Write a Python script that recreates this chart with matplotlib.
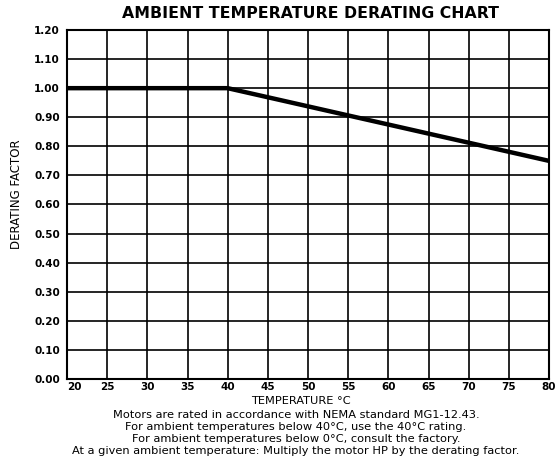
import numpy as np
import matplotlib
matplotlib.use("Agg")
import matplotlib.pyplot as plt

plt.rcParams['font.family'] = ['DejaVu Sans']

# derating curve
temps = [20, 40, 80]
factors = [1.00, 1.00, 0.75]

x_ticks = [20, 25, 30, 35, 40, 45, 50, 55, 60, 65, 70, 75, 80]
y_ticks = [0.0, 0.1, 0.2, 0.3, 0.4, 0.5, 0.6, 0.7, 0.8, 0.9, 1.0, 1.1, 1.2]

notes = [
    "Motors are rated in accordance with NEMA standard MG1-12.43.",
    "For ambient temperatures below 40°C, use the 40°C rating.",
    "For ambient temperatures below 0°C, consult the factory.",
    "At a given ambient temperature: Multiply the motor HP by the derating factor.",
]

W, H = 559, 459
fig = plt.figure(figsize=(W / 100, H / 100), dpi=100)
left, right, top, bottom = 67, 549, 30, 379
ax = fig.add_axes([left / W, 1 - bottom / H, (right - left) / W, (bottom - top) / H])

ax.plot(temps, factors, color='black', lw=3.2, solid_capstyle='butt', clip_on=False, zorder=5)

ax.set_xlim(20, 80)
ax.set_ylim(0, 1.2)
ax.set_xticks(x_ticks)
ax.set_yticks(y_ticks)
ax.set_xticklabels([str(t) for t in x_ticks], fontsize=7.5, fontweight='bold')
ax.set_yticklabels(["%.2f" % v for v in y_ticks], fontsize=7.5, fontweight='bold')
ax.tick_params(length=0)
ax.tick_params(axis='x', pad=2.5)
ax.tick_params(axis='y', pad=5)
ax.get_xticklabels()[0].set_horizontalalignment('left')
ax.grid(True, color='black', lw=1.2)
for s in ax.spines.values():
    s.set_linewidth(1.5)

fig.text(310 / W, 1 - 13 / H, "AMBIENT TEMPERATURE DERATING CHART",
         ha='center', va='center', fontsize=11.3, fontweight='bold')
fig.text(17 / W, 1 - 194 / H, "DERATING FACTOR", rotation=90,
         ha='center', va='center', fontsize=8.5)
fig.text(301 / W, 1 - 401 / H, "TEMPERATURE °C", ha='center', va='center', fontsize=8.2)
for i, line in enumerate(notes):
    fig.text(296 / W, 1 - (414.5 + 12.2 * i) / H, line, ha='center', va='center', fontsize=8.2)

fig.savefig("out.png", dpi=100)
